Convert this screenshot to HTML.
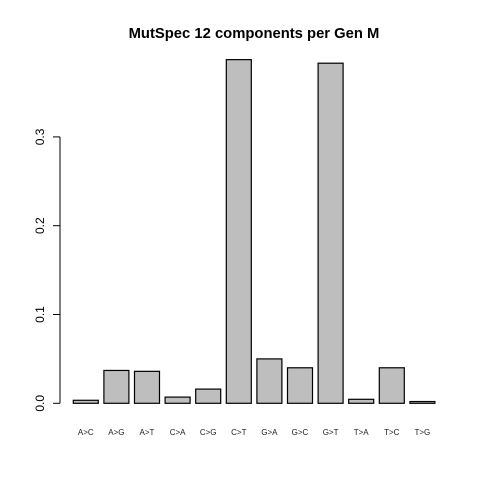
<!DOCTYPE html>
<html><head><meta charset="utf-8"><style>body{margin:0;background:#fff}svg{display:block}text{font-family:"Liberation Sans",Arial,sans-serif}</style></head>
<body>
<svg id="chart" width="480" height="480">
<text x="254" y="38" text-anchor="middle" font-size="14.8" font-weight="bold">MutSpec 12 components per Gen M</text>
<g id="bars"></g><g id="xlabels"></g><g id="yaxis"></g>
</svg>
<script>
const categories=["A>C","A>G","A>T","C>A","C>G","C>T","G>A","G>C","G>T","T>A","T>C","T>G"];
const values=[0.0034,0.037,0.036,0.007,0.016,0.387,0.050,0.040,0.383,0.0045,0.040,0.002];
const yTicks=[0,0.1,0.2,0.3];
const yTickLabels=["0.0","0.1","0.2","0.3"];
const NS="http://www.w3.org/2000/svg";
const y=v=>403.3-v*888;
const x=i=>73.3+i*30.6;
const bw=25;
function mk(t,a,p){const e=document.createElementNS(NS,t);for(const k in a)e.setAttribute(k,a[k]);p.appendChild(e);return e;}
const bars=document.getElementById('bars'),xl=document.getElementById('xlabels'),ya=document.getElementById('yaxis');
values.forEach((v,i)=>{
 const r=mk('rect',{x:x(i),y:y(v),width:bw,height:y(0)-y(v),fill:'#bebebe',stroke:'#000','stroke-width':1.2},bars);
 
 
 const t=mk('text',{x:x(i)+bw/2,y:435,'text-anchor':'middle','font-size':8,fill:'#222'},xl);
 t.textContent=categories[i];
 
 
});
const ax=mk('line',{x1:60,x2:60,y1:y(0),y2:y(0.3),stroke:'#000'},ya);


yTicks.forEach((v,i)=>{
 const tk=mk('line',{x1:53,x2:60,y1:y(v),y2:y(v),stroke:'#000'},ya);
 
 
 const t=mk('text',{x:0,y:0,'text-anchor':'middle','font-size':12,transform:`translate(44,${y(v)}) rotate(-90)`},ya);
 t.textContent=yTickLabels[i];
 
 
});
</script>
</body></html>
